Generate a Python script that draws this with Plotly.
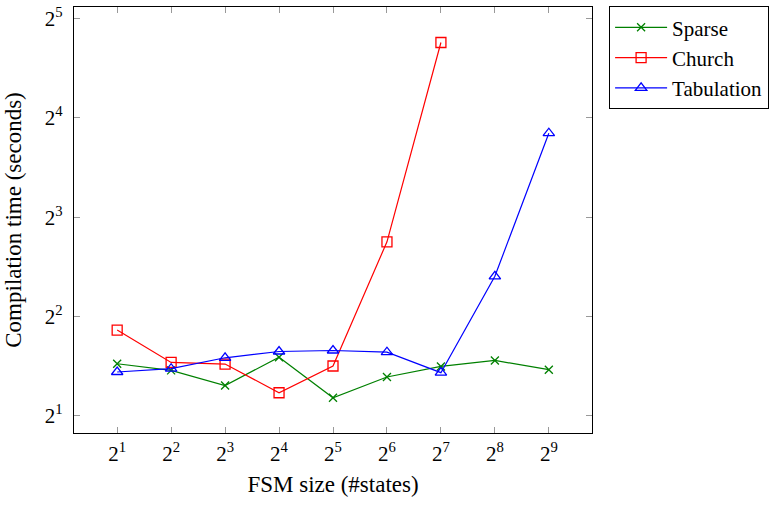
import math
import plotly.graph_objects as go

# Data (log2 of values)
exponents = [1, 2, 3, 4, 5, 6, 7, 8, 9]
fsm_sizes = [2 ** e for e in exponents]

sparse_log2 = [1.525, 1.458, 1.306, 1.591, 1.183, 1.392, 1.498, 1.558, 1.465]
church_log2 = [1.864, 1.538, 1.522, 1.233, 1.502, 2.752, 4.758]
tabulation_log2 = [1.442, 1.475, 1.585, 1.648, 1.658, 1.641, 1.435, 2.405, 3.845]

y_tick_exps = [1, 2, 3, 4, 5]

sparse = [2 ** v for v in sparse_log2]
church = [2 ** v for v in church_log2]
tabulation = [2 ** v for v in tabulation_log2]

SERIF = "Liberation Serif"

fig = go.Figure()
fig.add_trace(go.Scatter(
    x=fsm_sizes, y=sparse, name="Sparse", mode="lines+markers",
    line=dict(color="rgb(0,128,0)", width=1.2),
    marker=dict(symbol="x-thin-open", size=8, line=dict(color="rgb(0,128,0)", width=1.3)),
))
fig.add_trace(go.Scatter(
    x=fsm_sizes[:len(church)], y=church, name="Church", mode="lines+markers",
    line=dict(color="rgb(255,0,0)", width=1.2),
    marker=dict(symbol="square-open", size=10, line=dict(color="rgb(255,0,0)", width=1.3)),
))
fig.add_trace(go.Scatter(
    x=fsm_sizes, y=tabulation, name="Tabulation", mode="lines+markers",
    line=dict(color="rgb(0,0,255)", width=1.2),
    marker=dict(symbol="triangle-up-open", size=10, line=dict(color="rgb(0,0,255)", width=1.3)),
))

L2 = math.log10(2)
fig.update_layout(
    width=781, height=507,
    margin=dict(l=74, r=189, t=4, b=74),
    plot_bgcolor="white", paper_bgcolor="white",
    font=dict(family=SERIF, size=20, color="black"),
    showlegend=True,
    legend=dict(
        x=1.033, y=1.002, xanchor="left", yanchor="top",
        bordercolor="black", borderwidth=1, bgcolor="white",
        font=dict(family=SERIF, size=21),
        tracegroupgap=0, itemwidth=52,
    ),
    xaxis=dict(
        type="log", range=[0.2 * L2, 9.8 * L2],
        tickvals=fsm_sizes,
        ticktext=[f"2<sup>{e}</sup>" for e in exponents],
        ticks="inside", ticklen=6, tickcolor="#999999", tickwidth=1,
        showline=True, linecolor="black", linewidth=1.2, mirror="allticks",
        showgrid=False, zeroline=False, automargin=True,
        ticklabelstandoff=2,
        title=dict(text="FSM size (#states)", font=dict(family=SERIF, size=23), standoff=10),
        tickfont=dict(family=SERIF, size=21),
    ),
    yaxis=dict(
        type="log", range=[0.828 * L2, 5.115 * L2],
        tickvals=[2 ** e for e in y_tick_exps],
        ticktext=[f"2<sup>{e}</sup>" for e in y_tick_exps],
        ticks="inside", ticklen=6, tickcolor="#999999", tickwidth=1,
        showline=True, linecolor="black", linewidth=1.2, mirror="allticks",
        showgrid=False, zeroline=False, automargin=True,
        ticklabelstandoff=6,
        title=dict(text="Compilation time (seconds)", font=dict(family=SERIF, size=23), standoff=16),
        tickfont=dict(family=SERIF, size=21),
    ),
)

fig.write_html(
    "out.html",
    config={"displayModeBar": False},
    post_script="document.body.style.margin='0';document.body.style.padding='0';",
)
